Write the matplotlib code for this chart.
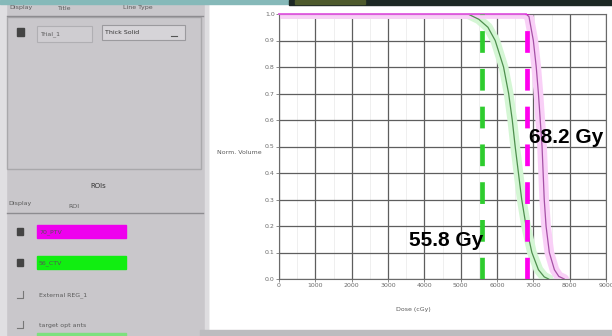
import matplotlib
matplotlib.use("Agg")
import matplotlib.pyplot as plt
from matplotlib.patches import Rectangle
from matplotlib.ticker import MultipleLocator

# DVH curves (dose in cGy, normalised volume)
ptv_dose = [0, 6800, 6880, 7000, 7080, 7140, 7190, 7240, 7270, 7300, 7350, 7440, 7580, 7700, 7850]
ptv_vol = [1.0, 1.0, 0.99, 0.9, 0.8, 0.7, 0.6, 0.5, 0.4, 0.3, 0.2, 0.1, 0.035, 0.01, 0.0]
ctv_dose = [0, 5200, 5500, 5750, 5950, 6180, 6320, 6420, 6500, 6590, 6680, 6800, 6960, 7140, 7300, 7420]
ctv_vol = [1.0, 1.0, 0.98, 0.95, 0.9, 0.8, 0.7, 0.6, 0.5, 0.4, 0.3, 0.2, 0.1, 0.035, 0.008, 0.0]

# marker doses (cGy) and their labels
marker_doses = [5580, 6820]
marker_labels = ["55.8 Gy", "68.2 Gy"]
marker_colors = ["#2ecc2e", "#ff00ee"]

x_ticks = list(range(0, 9001, 1000))
y_ticks = [round(i * 0.1, 1) for i in range(11)]

roi_names = ["70_PTV", "56_CTV", "External REG_1", "target opt ants"]
roi_colors = ["#ee00ee", "#11ee11", None, None]

W, H = 612, 336
fig = plt.figure(figsize=(W / 100, H / 100), dpi=100)

# ---- GUI frame drawn in pixel coordinates
bg = fig.add_axes([0, 0, 1, 1], zorder=0)
bg.set_xlim(0, W)
bg.set_ylim(H, 0)
bg.axis("off")

panel = "#c9c7cb"
txt = "#5a5a5a"
bg.add_patch(Rectangle((0, 0), W, H, color="white"))
bg.add_patch(Rectangle((0, 3), 208, H, color=panel))
bg.add_patch(Rectangle((0, 3), 6, H, color="#e0dfe2"))
bg.add_patch(Rectangle((205, 3), 3, H, color="#dedde0"))
bg.add_patch(Rectangle((200, 330), W - 200, 6, color="#bdbcbf"))
bg.add_patch(Rectangle((0, 0), 289, 3.5, color="#86b9b9"))
bg.add_patch(Rectangle((289, 0), W - 289, 5, color="#1c2824"))
bg.add_patch(Rectangle((295, 0), 70, 4, color="#4d5a2c"))

# trial list
for label, xp in [("Display", 9), ("Title", 58), ("Line Type", 123)]:
    bg.text(xp, 8, label, fontsize=4.5, color=txt, va="center")
bg.plot([7, 203], [15.5, 15.5], color="#8d8c90", lw=1)
bg.add_patch(Rectangle((7, 17), 194, 152, fill=False, ec="#a9a8ab", lw=1))
bg.add_patch(Rectangle((17, 28), 7, 8, color="#444444"))
bg.add_patch(Rectangle((37, 26), 55, 16, fc="#cfcdd1", ec="#b0afb3", lw=0.8))
bg.text(41, 34, "Trial_1", fontsize=4.5, color=txt, va="center")
bg.add_patch(Rectangle((102, 25), 83, 15, fc="#d6d4d8", ec="#9b9a9e", lw=0.8))
bg.text(105, 32, "Thick Solid", fontsize=4.5, color="#333333", va="center")
bg.plot([171, 177], [36, 36], color="#555555", lw=0.8)

# ROI list
bg.text(98, 186, "ROIs", fontsize=5, color="#333333", va="center", ha="center")
bg.text(8, 203, "Display", fontsize=4.5, color=txt, va="center")
bg.text(68, 206, "ROI", fontsize=4.5, color=txt, va="center")
bg.plot([7, 203], [213, 213], color="#8d8c90", lw=1)
row_y = [232, 263, 295, 325]
for name, color, yy in zip(roi_names, roi_colors, row_y):
    if color:
        bg.add_patch(Rectangle((17, yy - 4), 6, 7, color="#444444"))
        bg.add_patch(Rectangle((37, yy - 7), 89, 13, color=color))
        bg.text(39, yy, name, fontsize=4.5, color="#555555", va="center")
    else:
        bg.plot([17, 23, 23], [yy + 3, yy + 3, yy - 4], color="#777777", lw=0.8)
        bg.text(39, yy, name, fontsize=4.5, color=txt, va="center")
bg.add_patch(Rectangle((37, 333), 89, 3, color="#7ee07e"))

# axis titles sit outside the plotting axes
bg.text(239, 152, "Norm. Volume", fontsize=4.5, color=txt, va="center", ha="center")
bg.text(413, 310, "Dose (cGy)", fontsize=4.5, color=txt, va="center", ha="center")

# ---- DVH plot
ax = fig.add_axes([279 / W, (H - 279) / H, (606 - 279) / W, (279 - 14) / H], zorder=1)
ax.set_facecolor("white")
ax.set_xlim(0, 9000)
ax.set_ylim(0, 1.0)
ax.set_xticks(x_ticks)
ax.set_xticklabels([str(t) for t in x_ticks])
ax.set_yticks(y_ticks)
ax.set_yticklabels([f"{t:.1f}" for t in y_ticks])
ax.xaxis.set_minor_locator(MultipleLocator(500))
ax.grid(True, which="major", color="#5e5e5e", lw=0.9)
ax.grid(True, which="minor", axis="x", color="#ececec", lw=0.6)
ax.set_axisbelow(True)
ax.tick_params(labelsize=4.5, labelcolor="#6a6a6a", length=2, width=0.6,
               color="#777777", pad=1)
ax.tick_params(which="minor", length=0)
for sp in ax.spines.values():
    sp.set_color("#6a6a6a")
    sp.set_linewidth(0.8)

# soft halos under the thin curves
ax.plot(ctv_dose, ctv_vol, color="#d4f6d4", lw=7, solid_capstyle="round", zorder=2)
ax.plot(ptv_dose, ptv_vol, color="#f9d0f7", lw=7, solid_capstyle="round", zorder=2)
ax.plot(ctv_dose, ctv_vol, color="#4e8f4e", lw=0.9, zorder=3)
ax.plot(ptv_dose, ptv_vol, color="#a651a6", lw=0.9, zorder=3)
ax.plot(ptv_dose[:2], ptv_vol[:2], color="#e35ce3", lw=1.3, zorder=3, clip_on=False)

for d, c in zip(marker_doses, marker_colors):
    ax.axvline(d, color=c, lw=3.4, dashes=(4.6, 3.4), zorder=4)

ax.text(marker_doses[1] + 60, 0.513, marker_labels[1], fontsize=15,
        fontweight="bold", family="Liberation Sans", color="black", zorder=5)
ax.text(3580, 0.125, marker_labels[0], fontsize=15,
        fontweight="bold", family="Liberation Sans", color="black", zorder=5)

fig.savefig("out.png", dpi=100)
